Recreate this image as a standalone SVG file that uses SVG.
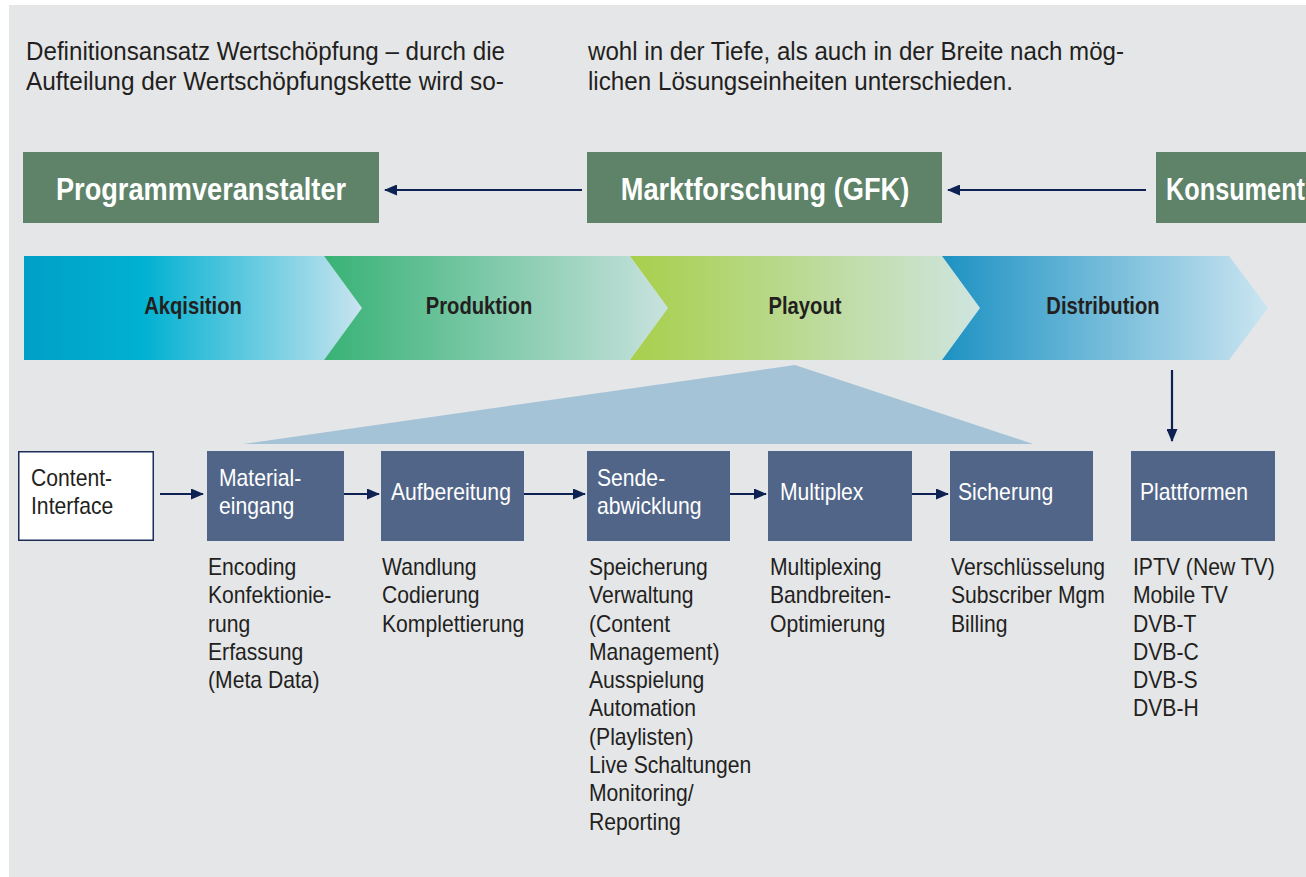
<svg xmlns="http://www.w3.org/2000/svg" width="1306" height="877" viewBox="0 0 1306 877">
<defs>
<style>
.para{font-family:"Liberation Sans",Arial,sans-serif;font-size:25px;fill:#231f20}
.body{font-family:"Liberation Sans",Arial,sans-serif;font-size:23px;fill:#231f20}
.btxt{font-family:"Liberation Sans",Arial,sans-serif;font-size:23px;fill:#ffffff}
.ctxt{font-family:"Liberation Sans",Arial,sans-serif;font-size:23px;fill:#231f20}
.gtxt{font-family:"Liberation Sans",Arial,sans-serif;font-size:32px;font-weight:bold;fill:#ffffff}
.chev{font-family:"Liberation Sans",Arial,sans-serif;font-size:23.5px;font-weight:bold;fill:#231f20}
.gbox{fill:#5e8369}
.bbox{fill:#516588}
.conn{stroke:#0e2153;stroke-width:2.2;fill:none}
</style>
<marker id="ah" viewBox="0 0 13 11" refX="12" refY="5.5" markerWidth="13" markerHeight="11" markerUnits="userSpaceOnUse" orient="auto">
<path d="M0,0 L13,5.5 L0,11 Z" fill="#0e2153"/>
</marker>
<linearGradient id="g1" x1="0" y1="0" x2="1" y2="0">
<stop offset="0" stop-color="#009fc7"/>
<stop offset="0.35" stop-color="#00b1d1"/>
<stop offset="1" stop-color="#c8e4ef"/>
</linearGradient>
<linearGradient id="g2" x1="0" y1="0" x2="1" y2="0">
<stop offset="0" stop-color="#38b276"/>
<stop offset="1" stop-color="#c8e2de"/>
</linearGradient>
<linearGradient id="g3" x1="0" y1="0" x2="1" y2="0">
<stop offset="0" stop-color="#a8cf4b"/>
<stop offset="1" stop-color="#cfe5e0"/>
</linearGradient>
<linearGradient id="g4" x1="0" y1="0" x2="1" y2="0">
<stop offset="0" stop-color="#1d92c3"/>
<stop offset="1" stop-color="#cbe5f1"/>
</linearGradient>
</defs>

<rect x="9" y="5" width="1297" height="872" fill="#e5e6e8"/>

<g id="intro">
<text class="para" x="26" y="60" textLength="479" lengthAdjust="spacingAndGlyphs">Definitionsansatz Wertschöpfung – durch die</text>
<text class="para" x="26" y="90" textLength="478" lengthAdjust="spacingAndGlyphs">Aufteilung der Wertschöpfungskette wird so-</text>
<text class="para" x="588" y="60" textLength="536" lengthAdjust="spacingAndGlyphs">wohl in der Tiefe, als auch in der Breite nach mög-</text>
<text class="para" x="588" y="90" textLength="425" lengthAdjust="spacingAndGlyphs">lichen Lösungseinheiten unterschieden.</text>
</g>

<g id="programmveranstalter">
<rect class="gbox" x="23" y="152" width="356" height="71"/>
<text class="gtxt" transform="translate(201 200) scale(0.85 1)" text-anchor="middle">Programmveranstalter</text>
</g>
<g id="marktforschung">
<rect class="gbox" x="587" y="152" width="355" height="71"/>
<text class="gtxt" transform="translate(765 200) scale(0.85 1)" text-anchor="middle">Marktforschung (GFK)</text>
</g>
<g id="konsument">
<rect class="gbox" x="1156" y="152" width="160" height="71"/>
<text class="gtxt" transform="translate(1166 200) scale(0.79 1)">Konsument</text>
</g>

<g id="akqisition">
<polygon points="24,256 324,256 362,308 324,360 24,360" fill="url(#g1)"/>
<text class="chev" transform="translate(193 314) scale(0.86 1)" text-anchor="middle">Akqisition</text>
</g>
<g id="produktion">
<polygon points="324,256 630,256 668,308 630,360 324,360 362,308" fill="url(#g2)"/>
<text class="chev" transform="translate(479 314) scale(0.86 1)" text-anchor="middle">Produktion</text>
</g>
<g id="playout">
<polygon points="630,256 942,256 980,308 942,360 630,360 668,308" fill="url(#g3)"/>
<text class="chev" transform="translate(805 314) scale(0.86 1)" text-anchor="middle">Playout</text>
</g>
<g id="distribution">
<polygon points="942,256 1229,256 1268,308 1229,360 942,360 980,308" fill="url(#g4)"/>
<text class="chev" transform="translate(1103 314) scale(0.86 1)" text-anchor="middle">Distribution</text>
</g>

<g id="playout-detail">
<polygon points="243,444 795,365 1033,444" fill="#a4c3d7"/>
</g>

<g id="content-interface">
<rect x="18.75" y="451.75" width="134.5" height="88.5" fill="#ffffff" stroke="#1c2d5a" stroke-width="1.5"/>
<text class="ctxt" transform="translate(31 0) scale(0.92 1)"><tspan x="0" y="486">Content-</tspan><tspan x="0" y="514">Interface</tspan></text>
</g>
<g id="materialeingang">
<rect class="bbox" x="207" y="451" width="137" height="90"/>
<text class="btxt" transform="translate(219 0) scale(0.92 1)"><tspan x="0" y="486">Material-</tspan><tspan x="0" y="514">eingang</tspan></text>
<text class="body" transform="translate(208 0) scale(0.92 1)"><tspan x="0" y="575">Encoding</tspan><tspan x="0" y="603.3">Konfektionie-</tspan><tspan x="0" y="631.6">rung</tspan><tspan x="0" y="659.9">Erfassung</tspan><tspan x="0" y="688.2">(Meta Data)</tspan></text>
</g>
<g id="aufbereitung">
<rect class="bbox" x="381" y="451" width="143" height="90"/>
<text class="btxt" transform="translate(391 0) scale(0.92 1)"><tspan x="0" y="500">Aufbereitung</tspan></text>
<text class="body" transform="translate(382 0) scale(0.92 1)"><tspan x="0" y="575">Wandlung</tspan><tspan x="0" y="603.3">Codierung</tspan><tspan x="0" y="631.6">Komplettierung</tspan></text>
</g>
<g id="sendeabwicklung">
<rect class="bbox" x="587" y="451" width="143" height="90"/>
<text class="btxt" transform="translate(597 0) scale(0.92 1)"><tspan x="0" y="486">Sende-</tspan><tspan x="0" y="514">abwicklung</tspan></text>
<text class="body" transform="translate(589 0) scale(0.92 1)"><tspan x="0" y="575">Speicherung</tspan><tspan x="0" y="603.3">Verwaltung</tspan><tspan x="0" y="631.6">(Content</tspan><tspan x="0" y="659.9">Management)</tspan><tspan x="0" y="688.2">Ausspielung</tspan><tspan x="0" y="716.5">Automation</tspan><tspan x="0" y="744.8">(Playlisten)</tspan><tspan x="0" y="773.1">Live Schaltungen</tspan><tspan x="0" y="801.4">Monitoring/</tspan><tspan x="0" y="829.7">Reporting</tspan></text>
</g>
<g id="multiplex">
<rect class="bbox" x="768" y="451" width="144" height="90"/>
<text class="btxt" transform="translate(780 0) scale(0.92 1)"><tspan x="0" y="500">Multiplex</tspan></text>
<text class="body" transform="translate(770 0) scale(0.92 1)"><tspan x="0" y="575">Multiplexing</tspan><tspan x="0" y="603.3">Bandbreiten-</tspan><tspan x="0" y="631.6">Optimierung</tspan></text>
</g>
<g id="sicherung">
<rect class="bbox" x="950" y="451" width="143" height="90"/>
<text class="btxt" transform="translate(958 0) scale(0.92 1)"><tspan x="0" y="500">Sicherung</tspan></text>
<text class="body" transform="translate(951 0) scale(0.92 1)"><tspan x="0" y="575">Verschlüsselung</tspan><tspan x="0" y="603.3">Subscriber Mgm</tspan><tspan x="0" y="631.6">Billing</tspan></text>
</g>
<g id="plattformen">
<rect class="bbox" x="1131" y="451" width="144" height="90"/>
<text class="btxt" transform="translate(1140 0) scale(0.92 1)"><tspan x="0" y="500">Plattformen</tspan></text>
<text class="body" transform="translate(1133 0) scale(0.92 1)"><tspan x="0" y="575">IPTV (New TV)</tspan><tspan x="0" y="603.3">Mobile TV</tspan><tspan x="0" y="631.6">DVB-T</tspan><tspan x="0" y="659.9">DVB-C</tspan><tspan x="0" y="688.2">DVB-S</tspan><tspan x="0" y="716.5">DVB-H</tspan></text>
</g>

<g id="connectors">
<line class="conn" x1="582" y1="190" x2="385" y2="190" marker-end="url(#ah)"/>
<line class="conn" x1="1146" y1="190" x2="948" y2="190" marker-end="url(#ah)"/>
<line class="conn" x1="1172" y1="370" x2="1172" y2="441" marker-end="url(#ah)"/>
<line class="conn" x1="160" y1="494" x2="203" y2="494" marker-end="url(#ah)"/>
<line class="conn" x1="344" y1="494" x2="379" y2="494" marker-end="url(#ah)"/>
<line class="conn" x1="524" y1="494" x2="585" y2="494" marker-end="url(#ah)"/>
<line class="conn" x1="730" y1="494" x2="766" y2="494" marker-end="url(#ah)"/>
<line class="conn" x1="912" y1="494" x2="948" y2="494" marker-end="url(#ah)"/>
</g>
</svg>
